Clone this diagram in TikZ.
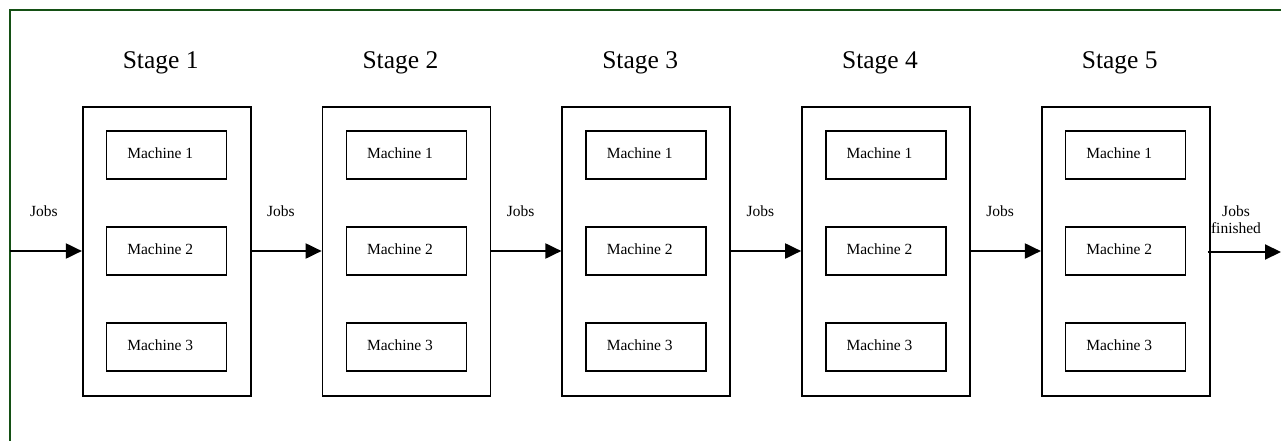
\documentclass[tikz,border=0pt]{standalone}
\usepackage{fontspec}
\setmainfont{Liberation Serif}
\usetikzlibrary{arrows.meta}
\definecolor{framegreen}{RGB}{20,80,20}
\tikzset{
  stagebox/.style={draw=black, line width=1.6pt, minimum width=168pt, minimum height=289pt, inner sep=0pt},
  machbox/.style={draw=black, line width=1.5pt, minimum width=120pt, minimum height=48pt, inner sep=0pt, font=\fontsize{15.5}{18}\selectfont},
  stagelabel/.style={font=\fontsize{25.5}{30}\selectfont},
  jobslabel/.style={font=\fontsize{15.5}{18}\selectfont, align=center},
  flow/.style={line width=2pt, -{Triangle[length=16pt,width=15pt]}}
}
\begin{document}
\begin{tikzpicture}[x=1pt,y=-1pt]
\useasboundingbox (0,0) rectangle (1281,441);
\begin{scope}
\clip (0,0) rectangle (1281,441);
\draw[framegreen, line width=2pt] (9.5,10.5) rectangle (1300,460);
\end{scope}
\coordinate (in) at (9.5,251);
\foreach \i in {1,...,5} {
  \pgfmathsetmacro{\cx}{82.7+84+(\i-1)*239.75}
  \node[stagebox] (s\i) at (\cx,251.5) {};
  \node[stagelabel] (t\i) at (\cx-6,63) {Stage \i};
  \node[machbox] (m\i a) at (\cx,155) {\raisebox{3pt}{\hspace*{-13pt}Machine 1}};
  \node[machbox] (m\i b) at (\cx,251) {\raisebox{3pt}{\hspace*{-13pt}Machine 2}};
  \node[machbox] (m\i c) at (\cx,347) {\raisebox{3pt}{\hspace*{-13pt}Machine 3}};
}
\coordinate (out) at (1281,252);
\draw[flow] (in) -- (s1.west |- in);
\node[jobslabel] (j1) at (44,211) {Jobs};
\foreach \a/\b in {1/2,2/3,3/4,4/5} {
  \draw[flow] (s\a.east |- in) -- (s\b.west |- in);
  \path (s\a.east) -- (s\b.west) node[jobslabel, pos=0.42, yshift=40.5pt] (j\b) {Jobs};
}
\draw[flow] ([xshift=-3pt]s5.east |- out) -- (out);
\node[jobslabel, inner sep=0pt] (jf) at (1236,220) {Jobs\\[-1pt]finished};
\end{tikzpicture}
\end{document}
